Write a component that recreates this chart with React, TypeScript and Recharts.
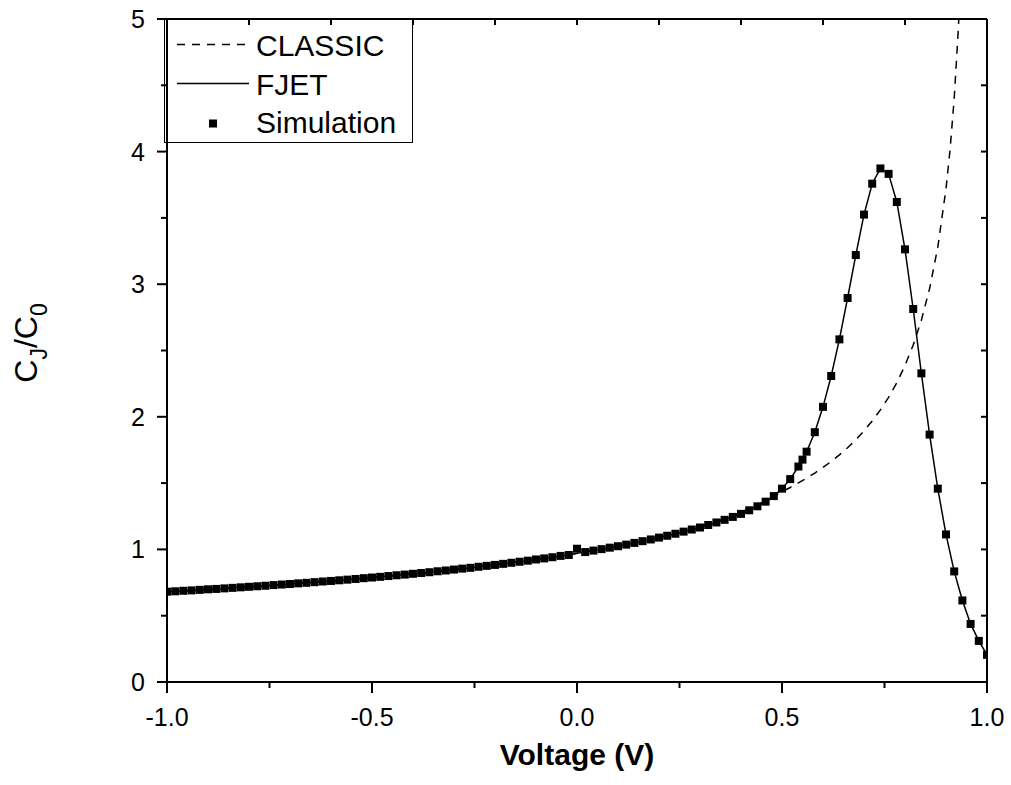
import React from 'react';
import { ComposedChart, Line, Scatter, XAxis, YAxis, Customized } from 'recharts';

const FONT = '"Liberation Sans", Arial, Helvetica, sans-serif';

// CLASSIC model curve
const classicVoltage = [
  -1.0, -0.98, -0.96, -0.94, -0.92, -0.9, -0.88, -0.86, -0.84, -0.82,
  -0.8, -0.78, -0.76, -0.74, -0.72, -0.7, -0.68, -0.66, -0.64, -0.62,
  -0.6, -0.58, -0.56, -0.54, -0.52, -0.5, -0.48, -0.46, -0.44, -0.42,
  -0.4, -0.38, -0.36, -0.34, -0.32, -0.3, -0.28, -0.26, -0.24, -0.22,
  -0.2, -0.18, -0.16, -0.14, -0.12, -0.1, -0.08, -0.06, -0.04, -0.02,
  0.0, 0.02, 0.04, 0.06, 0.08, 0.1, 0.12, 0.14, 0.16, 0.18,
  0.2, 0.22, 0.24, 0.26, 0.28, 0.3, 0.32, 0.34, 0.36, 0.38,
  0.4, 0.42, 0.44, 0.46, 0.48, 0.5, 0.52, 0.54, 0.56, 0.58,
  0.6, 0.62, 0.64, 0.66, 0.68, 0.7, 0.72, 0.74, 0.76, 0.78,
  0.8, 0.82, 0.84, 0.86, 0.88, 0.9, 0.91, 0.92, 0.93, 0.935,
];
const classicRatio = [
  0.681, 0.684, 0.688, 0.691, 0.695, 0.699, 0.702, 0.706, 0.71, 0.714,
  0.718, 0.722, 0.726, 0.731, 0.735, 0.739, 0.744, 0.748, 0.753, 0.758,
  0.762, 0.767, 0.772, 0.777, 0.783, 0.788, 0.793, 0.799, 0.805, 0.81,
  0.816, 0.822, 0.828, 0.835, 0.841, 0.848, 0.855, 0.861, 0.869, 0.876,
  0.883, 0.891, 0.899, 0.907, 0.915, 0.924, 0.932, 0.941, 0.951, 0.96,
  0.97, 0.98, 0.991, 1.002, 1.013, 1.024, 1.036, 1.049, 1.062, 1.075,
  1.089, 1.103, 1.118, 1.134, 1.15, 1.169, 1.19, 1.211, 1.233, 1.256,
  1.281, 1.307, 1.336, 1.366, 1.399, 1.435, 1.467, 1.501, 1.537, 1.576,
  1.618, 1.663, 1.713, 1.767, 1.827, 1.894, 1.968, 2.052, 2.147, 2.257,
  2.387, 2.541, 2.729, 2.967, 3.28, 3.719, 4.017, 4.4, 4.92, 5.26,
];

// FJET model and simulation share the same voltage grid
const gridVoltage = [
  -1.0, -0.98, -0.96, -0.94, -0.92, -0.9, -0.88, -0.86, -0.84, -0.82,
  -0.8, -0.78, -0.76, -0.74, -0.72, -0.7, -0.68, -0.66, -0.64, -0.62,
  -0.6, -0.58, -0.56, -0.54, -0.52, -0.5, -0.48, -0.46, -0.44, -0.42,
  -0.4, -0.38, -0.36, -0.34, -0.32, -0.3, -0.28, -0.26, -0.24, -0.22,
  -0.2, -0.18, -0.16, -0.14, -0.12, -0.1, -0.08, -0.06, -0.04, -0.02,
  0.0, 0.02, 0.04, 0.06, 0.08, 0.1, 0.12, 0.14, 0.16, 0.18,
  0.2, 0.22, 0.24, 0.26, 0.28, 0.3, 0.32, 0.34, 0.36, 0.38,
  0.4, 0.42, 0.44, 0.46, 0.48, 0.5, 0.52, 0.54, 0.55, 0.56, 0.58,
  0.6, 0.62, 0.64, 0.66, 0.68, 0.7, 0.72, 0.74, 0.76, 0.78,
  0.8, 0.82, 0.84, 0.86, 0.88, 0.9, 0.92, 0.94, 0.96, 0.98, 1.0,
];
const fjetRatio = [
  0.681, 0.684, 0.688, 0.691, 0.695, 0.699, 0.702, 0.706, 0.71, 0.714,
  0.718, 0.722, 0.726, 0.731, 0.735, 0.739, 0.744, 0.748, 0.753, 0.758,
  0.762, 0.767, 0.772, 0.777, 0.783, 0.788, 0.793, 0.799, 0.805, 0.81,
  0.816, 0.822, 0.828, 0.835, 0.841, 0.848, 0.855, 0.861, 0.869, 0.876,
  0.883, 0.891, 0.899, 0.907, 0.915, 0.924, 0.932, 0.941, 0.951, 0.96,
  0.97, 0.98, 0.991, 1.002, 1.013, 1.024, 1.036, 1.049, 1.062, 1.075,
  1.089, 1.103, 1.118, 1.134, 1.15, 1.165, 1.184, 1.203, 1.223, 1.245,
  1.268, 1.295, 1.325, 1.36, 1.402, 1.458, 1.53, 1.625, 1.677, 1.737, 1.884,
  2.075, 2.308, 2.584, 2.896, 3.22, 3.525, 3.758, 3.873, 3.832, 3.62,
  3.263, 2.813, 2.328, 1.866, 1.458, 1.113, 0.834, 0.615, 0.438, 0.31, 0.205,
];
const simRatio = [
  0.681, 0.684, 0.688, 0.691, 0.695, 0.699, 0.702, 0.706, 0.71, 0.714,
  0.718, 0.722, 0.726, 0.731, 0.735, 0.739, 0.744, 0.748, 0.753, 0.758,
  0.762, 0.767, 0.772, 0.777, 0.783, 0.788, 0.793, 0.799, 0.805, 0.81,
  0.816, 0.822, 0.828, 0.835, 0.841, 0.848, 0.855, 0.861, 0.869, 0.876,
  0.883, 0.891, 0.899, 0.907, 0.915, 0.924, 0.932, 0.941, 0.951, 0.958,
  1.005, 0.98, 0.991, 1.002, 1.013, 1.024, 1.036, 1.049, 1.062, 1.075,
  1.089, 1.103, 1.118, 1.134, 1.15, 1.165, 1.184, 1.203, 1.223, 1.245,
  1.268, 1.295, 1.325, 1.36, 1.402, 1.458, 1.53, 1.625, 1.677, 1.737, 1.884,
  2.075, 2.308, 2.584, 2.896, 3.22, 3.525, 3.758, 3.873, 3.832, 3.62,
  3.263, 2.813, 2.328, 1.866, 1.458, 1.113, 0.834, 0.615, 0.438, 0.31, 0.205,
];

const xTicks = [-1, -0.75, -0.5, -0.25, 0, 0.25, 0.5, 0.75, 1];
const xMajor = [-1, -0.5, 0, 0.5, 1];
const xMajorLabels = ['-1.0', '-0.5', '0.0', '0.5', '1.0'];
const xTopTicks = [-1, -0.8, -0.6, -0.4, -0.2, 0, 0.2, 0.4, 0.6, 0.8, 1];
const yTicks = [0, 0.5, 1, 1.5, 2, 2.5, 3, 3.5, 4, 4.5, 5];
const yMajor = [0, 1, 2, 3, 4, 5];
const yMajorLabels = ['0', '1', '2', '3', '4', '5'];
const legendLabels = ['CLASSIC', 'FJET', 'Simulation'];
const xTitle = 'Voltage (V)';

const classicData = classicVoltage.map((v, i) => ({ v, c: classicRatio[i] }));
const fjetData = gridVoltage.map((v, i) => ({ v, c: fjetRatio[i] }));
const simData = gridVoltage.map((v, i) => ({ v, c: simRatio[i] }));

const findIdx = (arr: number[], val: number) => arr.findIndex((t) => Math.abs(t - val) < 1e-6);

const BottomTick = (props: any) => {
  const { x, y, payload } = props;
  const idx = findIdx(xMajor, payload.value);
  const major = idx >= 0;
  return (
    <g>
      <line x1={x} x2={x} y1={y} y2={y + (major ? 11 : 6)} stroke="#000" strokeWidth={2} />
      {major && (
        <text x={x} y={y + 44} textAnchor="middle" fontSize={25} fontFamily={FONT} fill="#000">
          {xMajorLabels[idx]}
        </text>
      )}
    </g>
  );
};

const TopTick = (props: any) => {
  const { x, y } = props;
  return <line x1={x} x2={x} y1={y} y2={y + 6} stroke="#000" strokeWidth={2} />;
};

const LeftTick = (props: any) => {
  const { x, y, payload } = props;
  const idx = findIdx(yMajor, payload.value);
  const major = idx >= 0;
  return (
    <g>
      <line x1={x} x2={x - (major ? 10 : 6)} y1={y} y2={y} stroke="#000" strokeWidth={2} />
      {major && (
        <text x={x - 22} y={y} dy="0.36em" textAnchor="end" fontSize={25} fontFamily={FONT} fill="#000">
          {yMajorLabels[idx]}
        </text>
      )}
    </g>
  );
};

const RightTick = (props: any) => {
  const { x, y } = props;
  return <line x1={x} x2={x - 6} y1={y} y2={y} stroke="#000" strokeWidth={2} />;
};

const SquareShape = (props: any) => {
  const { cx, cy } = props;
  if (cx == null || cy == null) return <g />;
  return <rect x={cx - 4} y={cy - 4} width={8} height={8} fill="#000" />;
};

const Decorations = () => (
  <g>
    {/* Legend box */}
    <rect x={164.5} y={19.5} width={248} height={123} fill="#fff" stroke="#000" strokeWidth={1} />
    <line x1={177} x2={249} y1={44.5} y2={44.5} stroke="#000" strokeWidth={1.5} strokeDasharray="8 7" />
    <text x={256} y={55.5} fontSize={30} fontFamily={FONT} fill="#000">{legendLabels[0]}</text>
    <line x1={177} x2={249} y1={83.5} y2={83.5} stroke="#000" strokeWidth={1.5} />
    <text x={256} y={94.5} fontSize={30} fontFamily={FONT} fill="#000">{legendLabels[1]}</text>
    <rect x={209} y={119.5} width={8} height={8} fill="#000" />
    <text x={256} y={132.5} fontSize={30} fontFamily={FONT} fill="#000">{legendLabels[2]}</text>
    {/* Axis titles */}
    <text x={577} y={765} textAnchor="middle" fontSize={30} fontWeight="bold" fontFamily={FONT} fill="#000">
      {xTitle}
    </text>
    <text
      x={0}
      y={0}
      transform="translate(37,343) rotate(-90)"
      textAnchor="middle"
      fontSize={32}
      fontFamily={FONT}
      fill="#000"
    >
      <tspan>C</tspan>
      <tspan fontSize={23} dy={10}>J</tspan>
      <tspan dy={-10}>/C</tspan>
      <tspan fontSize={23} dy={10}>0</tspan>
    </text>
  </g>
);

export default function App() {
  return (
    <div style={{ width: 1011, height: 785 }}>
      <style>{'html,body{margin:0;padding:0;overflow:hidden;background:#fff}'}</style>
      <ComposedChart
        width={1011}
        height={785}
        margin={{ top: 9, right: 14, bottom: 23, left: 67 }}
      >
        <XAxis
          xAxisId={0}
          dataKey="v"
          type="number"
          domain={[-1, 1]}
          allowDataOverflow
          ticks={xTicks}
          interval={0}
          height={80}
          tickSize={0}
          tickMargin={0}
          tickLine={false}
          axisLine={{ stroke: '#000', strokeWidth: 2 }}
          tick={<BottomTick />}
        />
        <XAxis
          xAxisId="top"
          orientation="top"
          dataKey="v"
          type="number"
          domain={[-1, 1]}
          allowDataOverflow
          ticks={xTopTicks}
          interval={0}
          height={10}
          tickSize={0}
          tickMargin={0}
          tickLine={false}
          axisLine={{ stroke: '#000', strokeWidth: 2 }}
          tick={<TopTick />}
        />
        <YAxis
          yAxisId={0}
          type="number"
          domain={[0, 5]}
          allowDataOverflow
          ticks={yTicks}
          interval={0}
          width={100}
          tickSize={0}
          tickMargin={0}
          tickLine={false}
          axisLine={{ stroke: '#000', strokeWidth: 2 }}
          tick={<LeftTick />}
        />
        <YAxis
          yAxisId="right"
          orientation="right"
          type="number"
          domain={[0, 5]}
          allowDataOverflow
          ticks={yTicks}
          interval={0}
          width={10}
          tickSize={0}
          tickMargin={0}
          tickLine={false}
          axisLine={{ stroke: '#000', strokeWidth: 2 }}
          tick={<RightTick />}
        />
        <Line
          data={classicData}
          dataKey="c"
          type="linear"
          stroke="#000"
          strokeWidth={1.5}
          strokeDasharray="8 7"
          dot={false}
          activeDot={false}
          isAnimationActive={false}
        />
        <Line
          data={fjetData}
          dataKey="c"
          type="linear"
          stroke="#000"
          strokeWidth={1.5}
          dot={false}
          activeDot={false}
          isAnimationActive={false}
        />
        <Scatter data={simData} dataKey="c" shape={SquareShape} isAnimationActive={false} />
        <Customized component={Decorations} />
      </ComposedChart>
    </div>
  );
}
